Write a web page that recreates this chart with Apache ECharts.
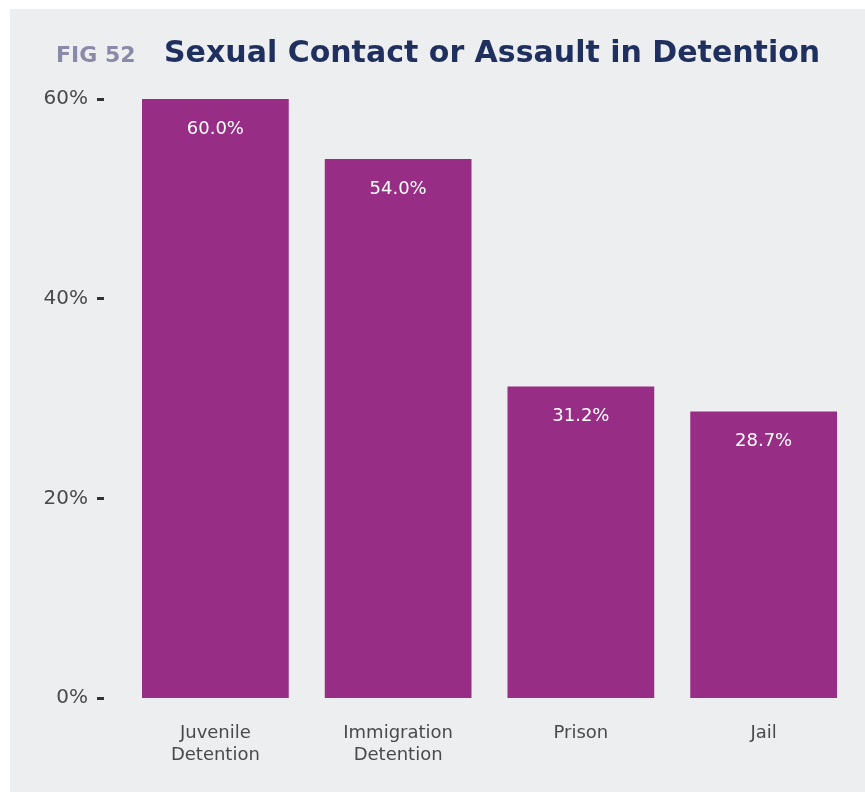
<!DOCTYPE html>
<html>
<head>
<meta charset="utf-8">
<script src="https://cdn.jsdelivr.net/npm/echarts@6/dist/echarts.min.js"></script>
<style>
html, body { margin: 0; padding: 0; background: #ffffff; }
#chart { position: absolute; left: 10px; top: 9px; width: 855px; height: 783px; background: #edeef0; }
</style>
</head>
<body>
<div id="chart"></div>
<script>
// data
var categories = ['Juvenile\nDetention', 'Immigration\nDetention', 'Prison', 'Jail'];
var values = [60.0, 54.0, 31.2, 28.7];
var yTicks = [0, 20, 40, 60];

var chart = echarts.init(document.getElementById('chart'));
var option = {
    backgroundColor: '#edeef0',
    title: [{
        left: 41,
        top: 31,
        text: 'FIG 52',
        textStyle: { fontFamily: 'DejaVu Sans', fontWeight: 'bold', fontSize: 22, color: '#8a8aa8' }
    }, {
        left: 149,
        top: 25,
        text: 'Sexual Contact or Assault in Detention',
        textStyle: { fontFamily: 'DejaVu Sans', fontWeight: 'bold', fontSize: 30, color: '#1f2f5e' }
    }],
    grid: {
        left: 114,
        right: 10,
        top: 90,
        bottom: 94,
        containLabel: false
    },
    xAxis: {
        type: 'category',
        data: categories,
        axisLine: { show: false },
        axisTick: { show: false },
        axisLabel: {
            margin: 24,
            fontFamily: 'DejaVu Sans',
            fontSize: 18,
            lineHeight: 22,
            color: '#4a4a4a'
        }
    },
    yAxis: {
        type: 'value',
        min: yTicks[0],
        max: yTicks[yTicks.length - 1],
        interval: 20,
        offset: 20,
        splitLine: { show: false },
        axisLine: { show: false },
        axisTick: { show: true, length: 7, lineStyle: { color: '#333333', width: 3 } },
        axisLabel: {
            margin: 16,
            fontFamily: 'DejaVu Sans',
            fontSize: 20,
            color: '#4a4a4a',
            formatter: '{value}%'
        }
    },
    series: [{
        type: 'bar',
        data: values,
        barCategoryGap: '19.7%',
        itemStyle: { color: '#982d86' },
        label: {
            show: true,
            position: 'insideTop',
            distance: 21,
            color: '#ffffff',
            fontFamily: 'DejaVu Sans',
            fontSize: 18,
            formatter: function (p) { return p.value.toFixed(1) + '%'; }
        }
    }]
};
chart.setOption(option);
</script>
</body>
</html>
